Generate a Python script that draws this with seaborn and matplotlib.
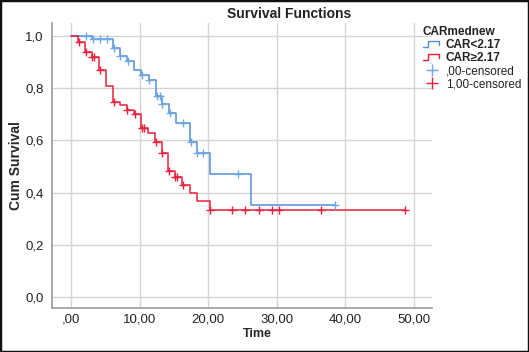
import numpy as np
import pandas as pd
import matplotlib
matplotlib.use("Agg")
import matplotlib.pyplot as plt
import seaborn as sns
from matplotlib.lines import Line2D
from matplotlib.patches import Rectangle
from matplotlib.legend_handler import HandlerBase

# step curves (time of drop, survival after the drop)
blue_times = [0, 3.1, 6.1, 7.15, 8.1, 9.2, 10.2, 11.3, 12.4, 13.2, 14.3, 15.3, 17.4, 18.35, 20.3, 26.3]
blue_surv = [1.0, 0.987, 0.955, 0.922, 0.905, 0.869, 0.85, 0.83, 0.77, 0.738, 0.707, 0.668, 0.593, 0.553, 0.473, 0.352]
blue_end = 38.5
blue_censored = [2.2, 3.2, 4.2, 5.2, 6.2, 7.2, 8.3, 10.3, 11.4, 12.5, 13.0, 13.3, 14.4, 16.4, 17.5, 18.4, 19.3, 24.4, 38.5]

red_times = [0, 1.07, 2.04, 3.0, 4.1, 5.1, 6.1, 7.15, 8.1, 9.2, 10.2, 11.2, 12.3, 13.2, 14.2, 15.2, 16.2, 17.3, 18.35, 20.3]
red_surv = [1.0, 0.976, 0.937, 0.918, 0.87, 0.81, 0.749, 0.735, 0.717, 0.70, 0.649, 0.63, 0.593, 0.553, 0.482, 0.46, 0.43, 0.40, 0.367, 0.332]
red_end = 48.8
red_censored = [1.2, 2.1, 3.1, 3.3, 4.2, 6.2, 8.2, 9.3, 10.3, 10.7, 12.4, 13.3, 14.3, 15.2, 15.5, 16.3,
                20.3, 23.5, 25.4, 27.4, 29.4, 30.4, 36.5, 48.8]

groups = ["CAR<2.17", "CAR\u22652.17"]
censor_labels = [",00-censored", "1,00-censored"]
colors = {"CAR<2.17": "#4f8fd8", "CAR\u22652.17": "#e8203c"}
censor_colors = {"CAR<2.17": "#6fa8e6", "CAR\u22652.17": "#e8203c"}

x_ticks = [0, 10, 20, 30, 40, 50]
x_ticklabels = [",00", "10,00", "20,00", "30,00", "40,00", "50,00"]
y_ticks = [0.0, 0.2, 0.4, 0.6, 0.8, 1.0]
y_ticklabels = ["0,0", "0,2", "0,4", "0,6", "0,8", "1,0"]


def curve_frame(times, surv, end, name):
    t = list(times) + [end]
    s = list(surv) + [surv[-1]]
    return pd.DataFrame({"time": t, "surv": s, "group": name})


def censor_frame(times, surv, cens, name):
    idx = np.searchsorted(times, cens, side="right") - 1
    return pd.DataFrame({"time": cens, "surv": np.array(surv)[idx], "group": name})


sns.set_style("white")
plt.rcParams["font.family"] = ["Liberation Sans", "DejaVu Sans"]
plt.rcParams["text.color"] = "#222222"

fig = plt.figure(figsize=(5.29, 3.52), dpi=100)
ax = fig.add_axes([52 / 529, 1 - 308 / 352, 380 / 529, 285 / 352])

for times, surv, end, cens, name in [
    (blue_times, blue_surv, blue_end, blue_censored, groups[0]),
    (red_times, red_surv, red_end, red_censored, groups[1]),
]:
    sns.lineplot(data=curve_frame(times, surv, end, name), x="time", y="surv",
                 color=colors[name], drawstyle="steps-post", estimator=None,
                 sort=False, linewidth=1.1, ax=ax, legend=False)
    sns.scatterplot(data=censor_frame(times, surv, cens, name), x="time", y="surv",
                    color=censor_colors[name], marker="+", s=26, linewidth=1.0,
                    ax=ax, legend=False, zorder=3)

ax.set_xlim(-2.8, 52.7)
ax.set_ylim(-0.042, 1.05)
ax.set_xticks(x_ticks)
ax.set_xticklabels(x_ticklabels)
ax.set_yticks(y_ticks)
ax.set_yticklabels(y_ticklabels)
ax.tick_params(axis="both", length=0, labelsize=9.5, colors="#222222")
ax.tick_params(axis="y", pad=6)
ax.tick_params(axis="x", pad=4)
ax.grid(True, color="#d4d4d4", linewidth=1.0)
ax.set_axisbelow(True)
for side in ["top", "right"]:
    ax.spines[side].set_visible(False)
for side in ["left", "bottom"]:
    ax.spines[side].set_color("#9a9a9a")
    ax.spines[side].set_linewidth(1.2)

ax.set_xlabel("Time", fontweight="bold", fontsize=9)
ax.set_ylabel("Cum Survival", fontweight="bold", fontsize=10)
ax.xaxis.set_label_coords((257 - 52) / 380, -(328 - 308) / 285)
ax.yaxis.set_label_coords(-(52 - 23) / 380, 0.5)
fig.text(289 / 529, 1 - 14 / 352, "Survival Functions", ha="center", va="center",
         fontweight="bold", fontsize=10)


class StepHandler(HandlerBase):
    def create_artists(self, legend, orig_handle, xdescent, ydescent, width, height, fontsize, trans):
        x0 = -xdescent
        y0 = -ydescent
        xs = [x0, x0 + 0.3 * width, x0 + 0.3 * width, x0 + 0.85 * width, x0 + 0.85 * width]
        ys = [y0 + 0.15 * height, y0 + 0.15 * height, y0 + 0.8 * height, y0 + 0.8 * height, y0 + 0.35 * height]
        line = Line2D(xs, ys, color=orig_handle.get_color(), linewidth=1.0, transform=trans)
        return [line]


handles = [
    Line2D([], [], color=colors[groups[0]]),
    Line2D([], [], color=colors[groups[1]]),
    Line2D([], [], color=censor_colors[groups[0]], marker="+", linestyle="none", markersize=8),
    Line2D([], [], color=censor_colors[groups[1]], marker="+", linestyle="none", markersize=8),
]
labels = groups + censor_labels
leg = fig.legend(handles, labels, loc="upper left", bbox_to_anchor=(418 / 529, 1 - 21 / 352),
                 frameon=False, title="CARmednew", fontsize=8.5, title_fontsize=8.5,
                 handlelength=1.6, handletextpad=0.35, labelspacing=0.1, borderaxespad=0,
                 handler_map={handles[0]: StepHandler(), handles[1]: StepHandler()})
leg.get_title().set_fontweight("bold")
leg._legend_box.align = "left"
for txt in leg.get_texts()[:2]:
    txt.set_fontweight("bold")

fig.patches.append(Rectangle((0, 0), 1, 1, transform=fig.transFigure, fill=False,
                             edgecolor="#111111", linewidth=2.5))

fig.savefig("out.png", dpi=100)
